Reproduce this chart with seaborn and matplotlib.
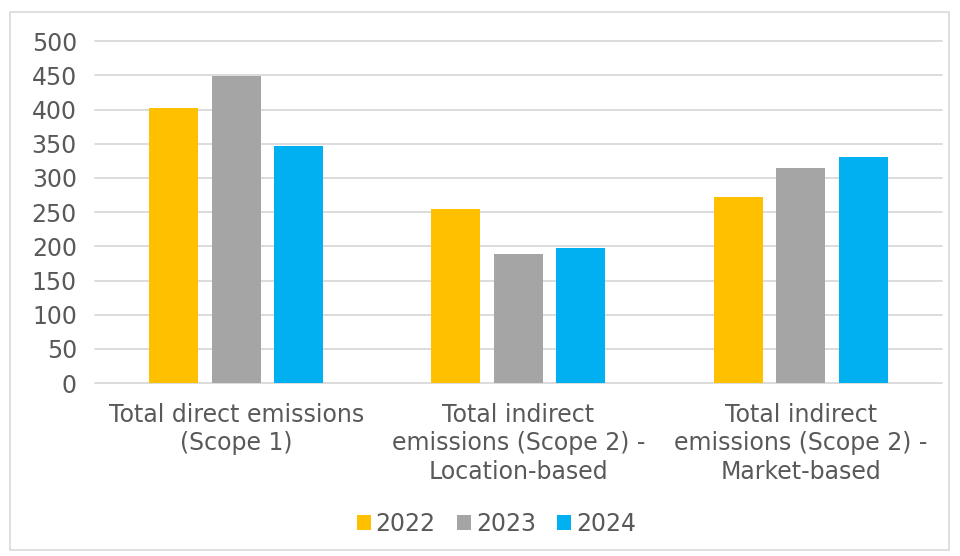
import seaborn as sns
import matplotlib.pyplot as plt
import pandas as pd
from matplotlib.patches import Rectangle

# 数据
categories = ["Total direct emissions\n(Scope 1)",
              "Total indirect\nemissions (Scope 2) -\nLocation-based",
              "Total indirect\nemissions (Scope 2) -\nMarket-based"]
years = ["2022", "2023", "2024"]
v2022 = [402, 254, 272]
v2023 = [449, 189, 314]
v2024 = [347, 198, 331]
colors = ["#FFC000", "#A5A5A5", "#00B0F0"]

df = pd.DataFrame({
    "category": categories * 3,
    "year": [y for y in years for _ in categories],
    "value": v2022 + v2023 + v2024,
})

sns.set_theme(style="white")
plt.rcParams['font.family'] = ['DejaVu Sans']
text_color = "#595959"
fs = 17

fig = plt.figure(figsize=(9.6, 5.56), dpi=100)
ax = fig.add_axes([0.099, 0.311, 0.882, 0.615])

# 外框
fig.patches.append(Rectangle((10 / 960, 6 / 556), 939 / 960, 538 / 556,
                             transform=fig.transFigure, fill=False,
                             edgecolor="#D9D9D9", linewidth=1.2))

sns.barplot(data=df, x="category", y="value", hue="year", palette=colors,
            saturation=1, width=0.664, gap=0.216, linewidth=0, ax=ax, legend=True)

ax.set_ylim(0, 500)
ax.set_yticks(range(0, 501, 50))
ax.yaxis.grid(True, color="#D9D9D9", linewidth=1.3)
for gl in ax.get_ygridlines():
    gl.set_clip_on(False)
ax.set_axisbelow(True)
for s in ax.spines.values():
    s.set_visible(False)
ax.set_xlabel("")
ax.set_ylabel("")
ax.tick_params(axis="y", length=0, pad=13, labelsize=fs, labelcolor=text_color)
ax.tick_params(axis="x", length=0, pad=14, labelsize=fs, labelcolor=text_color)
for lbl in ax.get_xticklabels():
    lbl.set_linespacing(1.25)

handles, labels = ax.get_legend_handles_labels()
ax.get_legend().remove()
leg = fig.legend(handles, labels, loc="center", bbox_to_anchor=(0.517, 0.057),
                 ncol=3, frameon=False, fontsize=fs, handlelength=0.6,
                 handleheight=0.6, handletextpad=0.2, columnspacing=0.9)
for t in leg.get_texts():
    t.set_color(text_color)

fig.savefig("out.png", dpi=100)
